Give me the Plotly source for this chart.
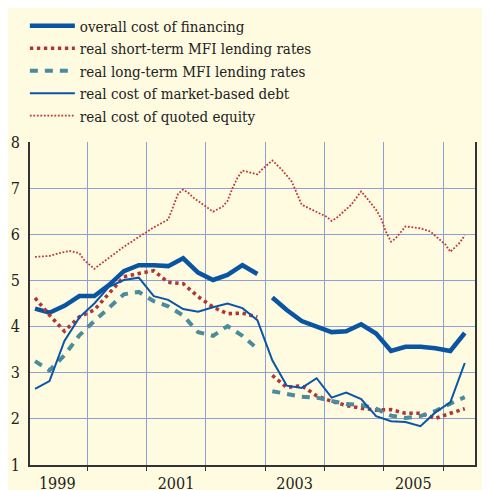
import plotly.graph_objects as go

# ---------------- data ----------------
quarter_dates = [f"{y}-{m:02d}-15" for y in range(1999, 2007) for m in (2, 5, 8, 11)][:30]

overall_cost = [4.39, 4.30, 4.45, 4.66, 4.66, 4.90, 5.20, 5.33, 5.33, 5.31,
                5.48, 5.17, 5.01, 5.12, 5.33, 5.14, 4.63, 4.36, 4.12, 4.00,
                3.88, 3.90, 4.05, 3.85, 3.47, 3.56, 3.56, 3.53, 3.47, 3.86]
short_term_mfi = [4.62, 4.25, 3.90, 4.21, 4.36, 4.72, 5.08, 5.15, 5.21, 4.96,
                  4.93, 4.65, 4.42, 4.28, 4.29, 4.21, 2.94, 2.68, 2.72, 2.50,
                  2.38, 2.29, 2.23, 2.19, 2.20, 2.12, 2.12, 2.01, 2.12, 2.22]
long_term_mfi = [3.25, 3.05, 3.38, 3.81, 4.12, 4.40, 4.70, 4.75, 4.55, 4.44,
                 4.24, 3.88, 3.80, 4.01, 3.80, 3.52, 2.60, 2.54, 2.48, 2.46,
                 2.38, 2.32, 2.30, 2.22, 2.07, 2.02, 2.06, 2.17, 2.33, 2.47]
market_debt = [2.65, 2.82, 3.69, 4.20, 4.50, 4.86, 5.01, 5.06, 4.66, 4.58,
               4.38, 4.32, 4.42, 4.50, 4.40, 4.14, 3.27, 2.72, 2.67, 2.88,
               2.46, 2.57, 2.43, 2.06, 1.95, 1.93, 1.84, 2.14, 2.36, 3.21]

equity_months = [1, 4, 6, 8, 10, 11, 13, 14, 19, 23, 25, 28, 29, 30, 31, 32, 33, 35,
                 37, 39, 40, 41, 42, 43, 46, 47, 49, 51, 53, 55, 57, 60, 61, 62,
                 65, 67, 68, 70, 71, 72, 73, 74, 76, 79, 81, 82, 84, 85, 87, 88]
equity_cost = [5.51, 5.53, 5.59, 5.64, 5.59, 5.44, 5.25, 5.33, 5.73, 6.00, 6.15, 6.32,
               6.60, 6.88, 6.97, 6.90, 6.80, 6.64, 6.49, 6.60, 6.72, 7.00, 7.22, 7.38,
               7.30, 7.41, 7.60, 7.40, 7.14, 6.64, 6.53, 6.38, 6.29, 6.35, 6.64,
               6.93, 6.80, 6.53, 6.35, 6.05, 5.84, 5.91, 6.17, 6.13, 6.06, 5.96,
               5.78, 5.62, 5.82, 5.98]
equity_dates = [f"{1999 + m // 12}-{m % 12 + 1:02d}-15" for m in equity_months]

break_index = 16

year_labels = ["1999", "2001", "2003", "2005"]
year_label_pos = [f"{y}-07-02" for y in year_labels]
grid_years = [f"{y}-01-01" for y in range(2000, 2007)]
y_ticks = [1, 2, 3, 4, 5, 6, 7, 8]


def with_break(dates, values, idx):
    return (dates[:idx] + [None] + dates[idx:], values[:idx] + [None] + values[idx:])


FONT = "DejaVu Serif Condensed, DejaVu Serif"
BG = "#fefbe0"
GRID = "#8e9fd8"
AX = "#333333"
TXT = "#222222"

fig = go.Figure()

x, y = with_break(quarter_dates, overall_cost, break_index)
fig.add_trace(go.Scatter(x=x, y=y, mode="lines", name="overall cost of financing",
                         line=dict(color="#0a55a2", width=4.5), connectgaps=False))
x, y = with_break(quarter_dates, short_term_mfi, break_index)
fig.add_trace(go.Scatter(x=x, y=y, mode="lines", name="real short-term MFI lending rates",
                         line=dict(color="#b03535", width=3.6, dash="3.4px,3.6px"), connectgaps=False))
x, y = with_break(quarter_dates, long_term_mfi, break_index)
fig.add_trace(go.Scatter(x=x, y=y, mode="lines", name="real long-term MFI lending rates",
                         line=dict(color="#4a8c9e", width=4, dash="8px,7px"), connectgaps=False))
fig.add_trace(go.Scatter(x=quarter_dates, y=market_debt, mode="lines",
                         name="real cost of market-based debt",
                         line=dict(color="#0a55a8", width=2)))
fig.add_trace(go.Scatter(x=equity_dates, y=equity_cost, mode="lines",
                         name="real cost of quoted equity",
                         line=dict(color="#bb3b3b", width=1.8, dash="1.8px,1.7px")))
fig.add_trace(go.Scatter(x=year_label_pos, y=[None] * len(year_label_pos), xaxis="x2",
                         yaxis="y2", mode="lines", showlegend=False, hoverinfo="skip"))

x_range = ["1999-01-15", "2006-07-17"]

fig.update_layout(
    width=482, height=482,
    margin=dict(l=22, r=15, t=134, b=25, autoexpand=False),
    paper_bgcolor=BG, plot_bgcolor=BG,
    font=dict(family=FONT, size=16, color=TXT),
    showlegend=True,
    legend=dict(xref="container", yref="container", x=0.035, y=0.997,
                xanchor="left", yanchor="top", bgcolor="rgba(0,0,0,0)",
                font=dict(family=FONT, size=15, color=TXT),
                tracegroupgap=0, itemwidth=45),
    xaxis=dict(type="date", range=x_range, tickvals=grid_years,
               ticktext=[""] * len(grid_years), showgrid=True, gridcolor=GRID,
               gridwidth=1.2, zeroline=False, showline=True, linecolor=AX,
               linewidth=1.5, ticks="outside", ticklen=4, tickcolor=AX,
               automargin=False),
    xaxis2=dict(type="date", range=x_range, overlaying="x", side="bottom",
                tickvals=year_label_pos, ticktext=year_labels, showgrid=False,
                zeroline=False, showline=False, ticks="outside", ticklen=4,
                tickcolor="rgba(0,0,0,0)", tickfont=dict(family=FONT, size=16, color=TXT),
                automargin=False),
    yaxis=dict(range=[1, 8], tickvals=y_ticks, showgrid=True, gridcolor=GRID,
               gridwidth=1.2, zeroline=False, showline=True, linecolor=AX,
               linewidth=2, ticks="outside", ticklen=5, tickcolor="rgba(0,0,0,0)",
               tickfont=dict(family=FONT, size=16, color=TXT), automargin=False),
    yaxis2=dict(range=[1, 8], tickvals=y_ticks, overlaying="y", side="right",
                showgrid=False, zeroline=False, showline=True, linecolor=AX,
                linewidth=2, ticks="outside", ticklen=5, tickcolor="rgba(0,0,0,0)",
                tickfont=dict(family=FONT, size=16, color=TXT), automargin=False),
)

fig.write_html("out.html")
